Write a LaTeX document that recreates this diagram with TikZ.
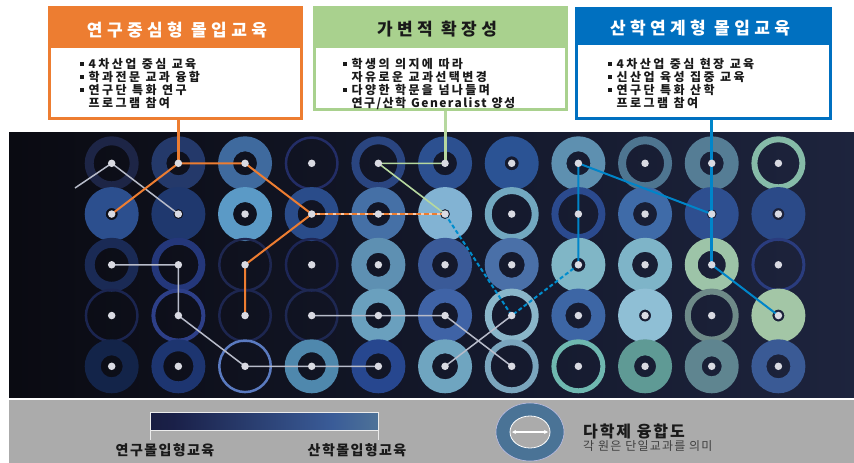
\documentclass[tikz,border=0pt]{standalone}
\usepackage{fontspec}
\setmainfont{Noto Sans CJK KR}
\usetikzlibrary{arrows.meta}
\definecolor{ocol}{HTML}{ED7D31}
\definecolor{gcol}{HTML}{A9D18E}
\definecolor{bcol}{HTML}{0070C0}
\definecolor{pA}{HTML}{09090F}
\definecolor{pB}{HTML}{151A2E}
\definecolor{pC}{HTML}{283050}
\definecolor{gA}{HTML}{0E0E22}
\definecolor{gB}{HTML}{1A2048}
\definecolor{gC}{HTML}{3A5C98}
\definecolor{gD}{HTML}{7FAA98}
\definecolor{txt}{HTML}{1A1A1A}
\definecolor{legbg}{HTML}{ABABAB}
\definecolor{dotc}{HTML}{D9DAE2}
\definecolor{glc}{HTML}{B8BCCA}
\pgfdeclarehorizontalshading{panelsh}{100bp}{color(0bp)=(pA); color(22bp)=(pA); color(55bp)=(pB); color(100bp)=(pC)}
\pgfdeclarehorizontalshading{barsh}{100bp}{color(0bp)=(gA); color(30bp)=(gB); color(65bp)=(gC); color(100bp)=(gD)}
\pgfdeclarelayer{bg}
\pgfdeclarelayer{lines}
\pgfsetlayers{bg,lines,main}
\newcommand\bul{\rule[2.3pt]{3.5pt}{3.5pt}\hspace{5pt}}
\newcommand\bodyfont{\bfseries\fontsize{12}{13}\selectfont\addfontfeatures{LetterSpace=20}\spaceskip 5.5pt plus 1pt\relax}
\newcommand\genfont{\bfseries\fontsize{12}{13}\selectfont\addfontfeatures{LetterSpace=12}\spaceskip 5pt plus 1pt\relax}
\tikzset{
  dot/.style={circle, fill=dotc, inner sep=0pt, minimum size=7.5pt},
  gline/.style={draw=glc, line width=1.5pt},
  oline/.style={draw=ocol, line width=2pt},
  odash/.style={draw=ocol, line width=2pt, dash pattern=on 5pt off 3pt},
  grline/.style={draw=gcol!85!white, line width=1.6pt},
  bline/.style={draw=bcol!85!cyan, line width=2pt},
  bdash/.style={draw=bcol!80!cyan, line width=2pt, dash pattern=on 4pt off 2.5pt},
  titletext/.style={font=\bfseries\fontsize{17}{19}\selectfont\addfontfeatures{LetterSpace=26}, inner sep=0pt},
  bodyline/.style={font=\bodyfont, text=txt, anchor=base west, inner sep=0pt},
  leglabel/.style={font=\bfseries\fontsize{14}{15}\selectfont\addfontfeatures{LetterSpace=10}, text=txt, inner sep=0pt},
  boxouter/.style={anchor=north west, inner sep=0pt},
  boxbody/.style={anchor=north west, fill=white, inner sep=0pt}
}
\begin{document}
\begin{tikzpicture}[x=1pt,y=-1pt]
\useasboundingbox (0,0) rectangle (854,463);
% dots (nodes)
\foreach \c in {0,...,10}{
  \foreach \r in {0,...,4}{
    \node[dot] (d-\c-\r) at (111.7+66.67*\c, 163.3+50.75*\r) {};
  }
}
\begin{pgfonlayer}{bg}
\fill[white] (0,0) rectangle (854,463);
\shade[shading=panelsh] (9,132) rectangle (854,397);
\fill[legbg] (9,400) rectangle (854,463);
\foreach \c/\r/\hx/\ri in {
 0/0/1D2546/18, 1/0/24396A/12, 2/0/3F6A9E/12, 3/0/232D66/24.5, 4/0/2A4580/19, 5/0/2C5090/12, 6/0/2B5394/7, 7/0/5E90B0/12, 8/0/4E7590/19, 9/0/557D95/12, 10/0/86BBA8/21,
 0/1/2C4F8E/6, 1/1/1F386E/5, 2/1/5B9AC6/12, 3/1/2A4C8A/14, 4/1/4570A6/12, 5/1/82B3D3/5, 6/1/72A8C0/20, 7/1/2B4A8E/20, 8/1/3F6BA8/12, 9/1/2E4F90/5, 10/1/2B4A88/6,
 0/2/1A2A55/17, 1/2/24377A/20, 2/2/1E2750/24.5, 3/2/1D2656/24.5, 4/2/5E90B2/12, 5/2/3A5A98/13, 6/2/4A70A8/13, 7/2/80B6C6/7, 8/2/7EB4C8/13, 9/2/9DC4A8/14, 10/2/2A3C7E/24,
 0/3/1B2550/24.5, 1/3/2D3F88/23, 2/3/1D2650/24.5, 3/3/1E2852/24.5, 4/3/6AA0BE/13, 5/3/3F63A6/13, 6/3/8AB6C9/20, 7/3/3D66A5/13, 8/3/8FBFD5/6, 9/3/6E8A88/21, 10/3/A3C6A6/6,
 0/4/132449/11, 1/4/1D3570/15, 2/4/5A7AC0/24.5, 3/4/4F88AD/14, 4/4/27478F/13, 5/4/6FA5C0/13, 6/4/7AA5BD/21, 7/4/6FB8B0/22, 8/4/5F9A95/11, 9/4/5F8590/10, 10/4/3A5A95/12}{
  \definecolor{rc}{HTML}{\hx}
  \fill[rc, even odd rule] (111.7+66.67*\c, 163.3+50.75*\r) circle[radius=27] circle[radius=\ri];
}
\end{pgfonlayer}
% boxes
\node[boxouter, fill=ocol, minimum width=255pt, minimum height=114pt] (b1) at (48,6) {};
\node[boxbody, minimum width=249pt, minimum height=69pt] (b1b) at (51,48) {};
\node[titletext, text=white] (t1) at (177,30) {연구중심형 몰입교육};
\node[bodyline] (l11) at (80,68) {\bul 4차산업 중심 교육};
\node[bodyline] (l12) at (80,81) {\bul 학과전문 교과 융합};
\node[bodyline] (l13) at (80,94) {\bul 연구단 특화 연구};
\node[bodyline] (l14) at (88.5,107) {프로그램 참여};

\node[boxouter, fill=gcol, minimum width=255pt, minimum height=105pt] (b2) at (313,6) {};
\node[boxbody, minimum width=249pt, minimum height=60pt] (b2b) at (316,48) {};
\node[titletext, text=txt] (t2) at (437,29) {가변적 확장성};
\node[bodyline] (l21) at (343,68) {\bul 학생의 의지에 따라};
\node[bodyline] (l22) at (351.5,81) {자유로운 교과선택변경};
\node[bodyline] (l23) at (343,94) {\bul 다양한 학문을 넘나들며};
\node[bodyline, font=\genfont] (l24) at (351.5,107) {연구/산학 Generalist 양성};

\node[boxouter, fill=bcol, minimum width=257pt, minimum height=113pt] (b3) at (575,7) {};
\node[boxbody, minimum width=251pt, minimum height=72pt] (b3b) at (578,45) {};
\node[titletext, text=white] (t3) at (700,28) {산학연계형 몰입교육};
\node[bodyline] (l31) at (608,68) {\bul 4차산업 중심 현장 교육};
\node[bodyline] (l32) at (608,81) {\bul 신산업 육성 집중 교육};
\node[bodyline] (l33) at (608,94) {\bul 연구단 특화 산학};
\node[bodyline] (l34) at (616.5,107) {프로그램 참여};

\coordinate (gfree) at (75,188);
\begin{pgfonlayer}{lines}
% box connectors
\draw[oline, line width=3.5pt] (b1.south -| d-1-0) -- (d-1-0.center);
\draw[grline, line width=3pt] (b2.south -| d-5-0) -- (d-5-0.center);
\draw[bline, line width=3.5pt] (b3.south -| d-9-0) -- (d-9-0.center) -- (d-9-1.center) -- (d-9-2.center);
% gray paths
\draw[gline] (gfree) -- (d-0-0.center) -- (d-1-1.center);
\draw[gline] (d-0-2.center) -- (d-1-2.center) -- (d-1-3.center) -- (d-2-4.center) -- (d-3-4.center) -- (d-4-4.center);
\draw[gline] (d-3-3.center) -- (d-4-3.center) -- (d-5-3.center) -- (d-6-4.center);
\draw[gline] (d-6-3.center) -- (d-5-4.center);
% orange paths
\draw[oline] (d-0-1.center) -- (d-1-0.center) -- (d-2-0.center) -- (d-3-1.center) -- (d-2-2.center) -- (d-2-3.center);
\draw[draw=ocol!40!white, line width=1.5pt] (d-3-1.center) -- (d-5-1.center);
\draw[odash] (d-3-1.center) -- (d-5-1.center);
% green paths
\draw[grline] (d-5-0.center) -- (d-4-0.center) -- (d-5-1.center);
% blue paths
\draw[bline] (d-7-2.center) -- (d-7-0.center) -- (d-9-1.center);
\draw[bline] (d-9-2.center) -- (d-10-3.center);
\draw[bdash] (d-5-1.center) -- (d-6-3.center) -- (d-7-2.center);
\end{pgfonlayer}
% legend
\shade[shading=barsh, draw=white!85!gray, line width=0.8pt] (150,412) rectangle (378,430);
\coordinate (barL) at (150,430);
\coordinate (barR) at (378,430);
\draw[white!85!gray, line width=0.8pt] (barL) -- ++(0,10);
\draw[white!85!gray, line width=0.8pt] (barR) -- ++(0,10);
\node[leglabel] (lgl) at (165,450) {연구몰입형교육};
\node[leglabel] (lgr) at (357,450) {산학몰입형교육};
\coordinate (lr) at (530,432);
\fill[fill={rgb,255:red,74;green,115;blue,150}, even odd rule] (lr) ellipse[x radius=34, y radius=29] ellipse[x radius=20, y radius=16];
\draw[white!80!blue!80!gray, line width=0.6pt] (lr) ellipse[x radius=34, y radius=29];
\draw[white, line width=0.8pt] (lr) ellipse[x radius=20, y radius=16];
\coordinate (ar1) at (512,432);
\coordinate (ar2) at (548,432);
\draw[white, line width=1.3pt, {Stealth[length=4pt,width=4pt]}-{Stealth[length=4pt,width=4pt]}] (ar1) -- (ar2);
\node[font=\bfseries\fontsize{16}{17}\selectfont\addfontfeatures{LetterSpace=12}, text=txt, anchor=west, inner sep=0pt] (lt1) at (583,431) {다학제 융합도};
\node[font=\fontsize{12}{13}\selectfont\addfontfeatures{LetterSpace=10}, text=black!75, anchor=west, inner sep=0pt] (lt2) at (583,446) {각 원은 단일교과를 의미};
\end{tikzpicture}
\end{document}
